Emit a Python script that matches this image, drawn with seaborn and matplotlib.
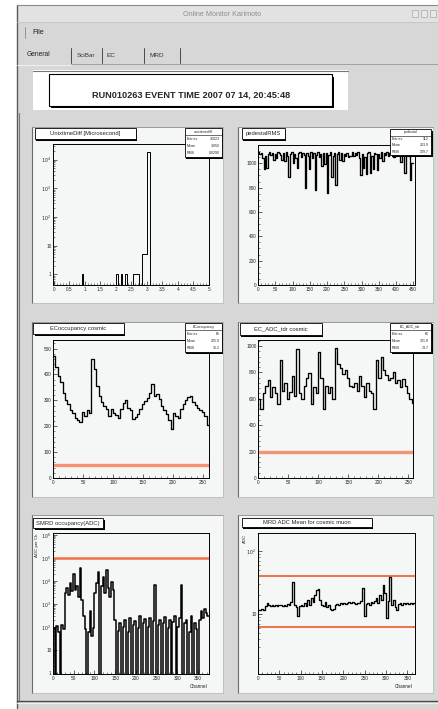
import numpy as np
import pandas as pd
import matplotlib
matplotlib.use("Agg")
import matplotlib.pyplot as plt
from matplotlib.patches import Rectangle
from matplotlib.lines import Line2D
from matplotlib.ticker import MultipleLocator, FixedLocator, LogLocator, FuncFormatter, NullFormatter
import seaborn as sns

# ---------------- data ----------------
run_label = "RUN010263 EVENT TIME 2007 07 14, 20:45:48"
window_title = "Online Monitor Karimoto"
tab_names = ["General", "SciBar", "EC", "MRD"]

# unixtime difference histogram (bin width 0.05), only non-empty bins listed
diff_bin_left = [0.90, 2.00, 2.15, 2.30, 2.55, 2.60, 2.65, 2.70, 2.85, 2.90, 2.95, 3.00, 3.05]
diff_counts = [1, 1, 1, 1, 1, 1, 1, 1, 5, 5, 5, 18000, 18000]

# pedestal sum per channel group (4 channels per entry)
ped_values = [1090, 1075, 1085, 1040, 950, 1060, 960, 1080, 1092, 1070, 1088, 1030, 1080, 1045,
              1090, 1082, 1070, 1025, 1085, 1020, 1090, 1060, 890, 1075, 1090, 1000, 1080, 1040,
              960, 1085, 1092, 1050, 1088, 1070, 795, 1085, 1060, 950, 1090, 1040, 1085, 780,
              1070, 1092, 1050, 1080, 975, 1088, 990, 1085, 753, 1070, 1090, 890, 1060, 1085,
              822, 1075, 1090, 1030, 1088, 1020, 1080, 1060, 1085, 1055, 1058, 1057, 1090, 1060,
              1085, 1070, 1092, 1040, 905, 1080, 960, 1050, 910, 1085, 1090, 920, 1060, 950,
              1088, 1075, 947, 1080, 1040, 1090, 1020, 1085, 1070, 1092, 1060, 1088, 1075, 1090,
              1050, 1085, 1092, 1070, 1088, 1010, 1080, 1090, 920, 1085, 1070, 1060, 864, 1000]

# EC occupancy for cosmics (4 channels per entry)
ec_occ = [470, 430, 395, 372, 330, 300, 285, 262, 250, 232, 225, 218, 255, 240, 262, 250,
          460, 420, 355, 318, 295, 278, 265, 238, 268, 250, 242, 230, 268, 290, 300, 270,
          262, 228, 235, 248, 268, 285, 298, 310, 330, 362, 318, 325, 305, 280, 262, 248,
          225, 190, 252, 240, 232, 265, 285, 300, 312, 318, 292, 282, 270, 262, 255, 240, 205]
ec_occ_threshold = 50

# EC ADC (tdr) for cosmics (4 channels per entry)
ec_adc = [595, 520, 640, 700, 745, 610, 690, 640, 560, 895, 660, 720, 600, 650, 770, 620,
          975, 640, 600, 700, 760, 795, 560, 690, 640, 955, 760, 520, 700, 640, 690, 600,
          985, 860, 830, 790, 820, 760, 700, 690, 720, 660, 770, 700, 610, 720, 660, 640,
          520, 890, 760, 920, 820, 780, 740, 760, 800, 720, 740, 690, 750, 700, 640, 600, 570]
ec_adc_threshold = 200

# SMRD occupancy (4 channels per entry)
smrd_occ = [90, 0, 110, 60, 0, 120, 80, 3000, 5000, 2500, 8000, 3500, 20000, 4000, 6000, 2000,
            35000, 1500, 300, 80, 0, 60, 500, 40, 90, 3000, 8000, 25000, 0, 6000, 15000, 3000,
            30000, 5000, 2000, 9000, 4000, 200, 0, 70, 150, 0, 100, 200, 0, 60, 250, 0,
            120, 180, 0, 90, 300, 0, 150, 220, 0, 100, 250, 0, 180, 7000, 0, 120, 200, 0,
            150, 280, 0, 90, 200, 0, 160, 300, 0, 100, 250, 7000, 0, 150, 200, 0, 60, 300,
            0, 150, 80, 0, 200, 500, 250, 600, 400, 300]
smrd_threshold = 1e5

# MRD ADC mean for cosmic muons (4 channels per entry)
mrd_adc = [11.5, 11.8, 12.0, 11.6, 13.5, 15.0, 13.8, 13.6, 14.0, 13.5, 13.8, 13.4, 13.9, 14.2,
           13.6, 14.0, 13.5, 14.5, 13.8, 15.5, 32.0, 14.0, 13.0, 9.3, 13.5, 14.2, 13.6, 15.0,
           13.4, 16.5, 14.0, 18.0, 15.5, 20.0, 24.0, 25.0, 17.0, 14.0, 13.5, 15.5, 13.0, 14.0,
           12.0, 11.6, 12.3, 14.0, 14.5, 14.2, 14.8, 14.5, 15.0, 14.6, 15.2, 15.5, 14.8, 15.8,
           15.0, 14.5, 15.2, 14.8, 16.0, 26.0, 9.3, 14.5, 15.0, 14.2, 15.5, 14.8, 16.0, 18.0,
           15.0, 20.0, 17.0, 29.0, 22.0, 8.7, 16.0, 39.0, 14.0, 17.0, 13.0, 11.5, 14.5, 15.0,
           14.2, 15.2, 14.6, 15.0, 14.3, 15.0, 14.5, 14.8]
mrd_upper, mrd_lower = 41, 6.2

titles = ["UnixtimeDiff [Microsecond]", "pedestalRMS", "ECoccupancy cosmic",
          "EC_ADC_tdr cosmic", "SMRD occupancy(ADC)", "MRD ADC Mean for cosmic muon"]

# ---------------- style ----------------
sns.set_style("ticks")
plt.rcParams['font.family'] = ['Liberation Sans', 'DejaVu Sans']
plt.rcParams['axes.linewidth'] = 0.6

W, H = 439, 709
fig = plt.figure(figsize=(W / 100, H / 100), dpi=100)
fig.patch.set_facecolor('white')

WIN = '#d7d7d7'
CANVAS = '#f5f6f6'
RED = '#f07048'


def box(x0, y0, x1, y1, **kw):
    r = Rectangle((x0 / W, 1 - y1 / H), (x1 - x0) / W, (y1 - y0) / H,
                  transform=fig.transFigure, **kw)
    fig.add_artist(r)
    return r


def hline(xs, ys, **kw):
    kw.setdefault('zorder', -5)
    fig.add_artist(Line2D([x / W for x in xs], [1 - y / H for y in ys],
                          transform=fig.transFigure, **kw))


def text(x, y, s, **kw):
    return fig.text(x / W, 1 - y / H, s, **kw)


def add_ax(x0, y0, x1, y1):
    ax = fig.add_axes([x0 / W, 1 - y1 / H, (x1 - x0) / W, (y1 - y0) / H])
    ax.set_facecolor(CANVAS)
    for s in ax.spines.values():
        s.set_color('black')
        s.set_linewidth(0.7)
    ax.tick_params(which='major', direction='in', length=2.6, width=0.5,
                   labelsize=3.4, pad=1.2, top=False, right=False)
    ax.tick_params(which='minor', direction='in', length=1.3, width=0.4,
                   top=False, right=False)
    return ax


def log_fmt(v, pos):
    n = int(round(np.log10(v))) if v > 0 else 0
    if n == 0:
        return "1"
    if n == 1:
        return "10"
    return r"$10^{%d}$" % n


def num_fmt(v, pos):
    return "%g" % v


def title_box(x0, y0, x1, y1, s):
    box(x0 + 1.5, y0 + 1.5, x1 + 1.5, y1 + 1.5, facecolor='black', edgecolor='none', zorder=5)
    box(x0, y0, x1, y1, facecolor='white', edgecolor='black', lw=0.6, zorder=6)
    text((x0 + x1) / 2, (y0 + y1) / 2 + 0.3, s, fontsize=4.2, ha='center', va='center', zorder=7)


def stat_box(x0, y0, x1, y1, name, rows):
    box(x0 + 1.5, y0 + 1.5, x1 + 1.5, y1 + 1.5, facecolor='black', edgecolor='none', zorder=5)
    box(x0, y0, x1, y1, facecolor='white', edgecolor='black', lw=0.6, zorder=6)
    nrow = len(rows) + 1
    h = (y1 - y0) / nrow
    text((x0 + x1) / 2, y0 + h / 2, name, fontsize=2.6, ha='center', va='center', zorder=7)
    hline([x0, x1], [y0 + h, y0 + h], color='black', lw=0.4, zorder=7)
    for i, (k, v) in enumerate(rows):
        yy = y0 + h * (i + 1.5)
        text(x0 + 2, yy, k, fontsize=2.6, ha='left', va='center', zorder=7)
        text(x1 - 2, yy, v, fontsize=2.6, ha='right', va='center', zorder=7)


def step_df(left, values, width):
    xs = list(left) + [left[-1] + width]
    ys = list(values) + [values[-1]]
    return pd.DataFrame({'x': xs, 'y': ys})


def stats(left, values, width):
    c = np.asarray(left) + width / 2
    w = np.asarray(values, dtype=float)
    n = w.sum()
    m = (c * w).sum() / n
    r = np.sqrt(((c - m) ** 2 * w).sum() / n)
    return n, m, r


# ---------------- window frame ----------------
box(17, 5, 439, 709, facecolor=WIN, edgecolor='none', zorder=-10)
box(17, 5, 439, 22, facecolor='#e2e2e2', edgecolor='none', zorder=-9)
hline([17, 17], [5, 709], color='#5a5a5a', lw=1.0)
hline([17, 439], [5, 5], color='#8a8a8a', lw=0.8)
hline([17, 439], [22, 22], color='#c4c4c4', lw=0.6)
text(222, 14, window_title, fontsize=5.2, color='#8e8e8e', ha='center', va='center')
for bx in (412, 421, 430):
    box(bx, 10, bx + 6, 17, facecolor='#e8e8e8', edgecolor='#a8a8a8', lw=0.5, zorder=-8)

# menu bar
hline([25, 25], [27, 38], color='#8a8a8a', lw=0.6)
text(32, 33, "File", fontsize=5.2, color='#222222', ha='left', va='center')

# tabs
text(27, 55, tab_names[0], fontsize=4.8, color='#222222', ha='left', va='center')
text(77, 55.5, tab_names[1], fontsize=4.6, color='#333333', ha='left', va='center')
text(107, 55.5, tab_names[2], fontsize=4.6, color='#333333', ha='left', va='center')
text(150, 55.5, tab_names[3], fontsize=4.6, color='#333333', ha='left', va='center')
for tx in (71, 102, 144, 180):
    hline([tx, tx], [48, 63], color='#4a4a4a', lw=0.7)
hline([71, 439], [64, 64], color='#9a9a9a', lw=0.6)
hline([17, 71], [64.8, 64.8], color='#f4f4f4', lw=0.6)

# event banner
box(33, 70, 348, 110, facecolor='white', edgecolor='none', zorder=-8)
hline([33, 348], [70.5, 70.5], color='#777777', lw=0.8)
box(51, 77, 334, 108, facecolor='black', edgecolor='none', zorder=-7)
box(49, 74, 332, 105.5, facecolor='white', edgecolor='black', lw=0.8, zorder=-6)
text(191, 95, run_label, fontsize=6.6, fontweight='bold', ha='center', va='center',
     family=['Liberation Sans Narrow', 'Liberation Sans', 'DejaVu Sans'])

# panel container
hline([19.5, 19.5], [113, 700], color='#7a7a7a', lw=0.8)
hline([17, 439], [701, 701], color='#4a4a4a', lw=1.0)
hline([17, 439], [703, 703], color='#efefef', lw=0.8)

canvases = [(32, 127, 223, 303), (238, 127, 433, 303),
            (32, 322, 223, 497), (238, 322, 433, 497),
            (32, 515, 223, 693), (238, 515, 433, 693)]
for (x0, y0, x1, y1) in canvases:
    box(x0, y0, x1, y1, facecolor=CANVAS, edgecolor='none', zorder=-4)
    hline([x0, x0], [y0, y1], color='#6a6a6a', lw=0.8, zorder=-3)
    hline([x0, x1], [y0, y0], color='#8a8a8a', lw=0.6, zorder=-3)
    hline([x1, x1], [y0, y1], color='#bdbdbd', lw=0.6, zorder=-3)
    hline([x0, x1], [y1, y1], color='#bdbdbd', lw=0.6, zorder=-3)

LW = 0.95

# ---------------- panel 1: unixtime difference ----------------
ax1 = add_ax(53, 144, 209, 285)
edges = np.round(np.arange(0, 5.0001, 0.05), 2)
full = np.zeros(len(edges) - 1)
for b, c in zip(diff_bin_left, diff_counts):
    full[int(round(b / 0.05))] = c
d1 = step_df(edges[:-1], full, 0.05)
sns.lineplot(data=d1, x='x', y='y', ax=ax1, drawstyle='steps-post', color='black',
             lw=0.7, estimator=None, sort=False, legend=False)
ax1.set_yscale('log')
ax1.set_xlim(-0.03, 5.0)
ax1.set_ylim(0.43, 35000)
ax1.xaxis.set_major_locator(MultipleLocator(0.5))
ax1.xaxis.set_minor_locator(MultipleLocator(0.1))
ax1.xaxis.set_major_formatter(FuncFormatter(num_fmt))
ax1.yaxis.set_major_locator(FixedLocator([1, 10, 100, 1000, 10000]))
ax1.yaxis.set_minor_locator(LogLocator(base=10, subs=np.arange(2, 10)))
ax1.yaxis.set_major_formatter(FuncFormatter(log_fmt))
ax1.yaxis.set_minor_formatter(NullFormatter())
n, m, r = stats(edges[:-1], full, 0.05)
title_box(35, 128, 136, 139, titles[0])
stat_box(185, 128, 222, 157, "unixtimediff",
         [("Entries", "%d" % n), ("Mean", "%.3f" % m), ("RMS", "%.4f" % r)])

# ---------------- panel 2: pedestal ----------------
ax2 = add_ax(258, 145, 415, 285)
ped_left = list(range(0, 4 * len(ped_values), 4))
d2 = step_df(ped_left, ped_values, 4)
sns.lineplot(data=d2, x='x', y='y', ax=ax2, drawstyle='steps-post', color='black',
             lw=LW, estimator=None, sort=False, legend=False)
ax2.set_xlim(0, 455)
ax2.set_ylim(0, 1150)
ax2.xaxis.set_major_locator(MultipleLocator(50))
ax2.xaxis.set_minor_locator(MultipleLocator(10))
ax2.yaxis.set_major_locator(FixedLocator([0, 200, 400, 600, 800, 1000]))
ax2.yaxis.set_minor_locator(MultipleLocator(50))
n, m, r = stats(ped_left, ped_values, 4)
title_box(242, 128, 285, 139, titles[1])
stat_box(390, 129, 431, 155, "pedestal",
         [("Entries", "%d" % len(ped_values)), ("Mean", "%.1f" % m), ("RMS", "%.1f" % r)])

# ---------------- panel 3: EC occupancy ----------------
ax3 = add_ax(53, 340, 209, 478)
occ_left = list(range(0, 4 * len(ec_occ), 4))
d3 = step_df(occ_left, ec_occ, 4)
sns.lineplot(data=d3, x='x', y='y', ax=ax3, drawstyle='steps-post', color='black',
             lw=LW, estimator=None, sort=False, legend=False)
ax3.axhline(ec_occ_threshold, color='#f39474', lw=2.4, zorder=1)
ax3.set_xlim(0, 260)
ax3.set_ylim(0, 533)
ax3.xaxis.set_major_locator(MultipleLocator(50))
ax3.xaxis.set_minor_locator(MultipleLocator(10))
ax3.yaxis.set_major_locator(MultipleLocator(100))
ax3.yaxis.set_minor_locator(MultipleLocator(20))
n, m, r = stats(occ_left, ec_occ, 4)
title_box(33, 323, 124, 334, titles[2])
stat_box(185, 323, 222, 352, "ECoccupancy",
         [("Entries", "%d" % len(ec_occ)), ("Mean", "%.1f" % m), ("RMS", "%.1f" % r)])

# ---------------- panel 4: EC ADC ----------------
ax4 = add_ax(258, 340, 413, 478)
adc_left = list(range(0, 4 * len(ec_adc), 4))
d4 = step_df(adc_left, ec_adc, 4)
sns.lineplot(data=d4, x='x', y='y', ax=ax4, drawstyle='steps-post', color='black',
             lw=LW, estimator=None, sort=False, legend=False)
ax4.axhline(ec_adc_threshold, color='#f39474', lw=2.4, zorder=1)
ax4.set_xlim(0, 258)
ax4.set_ylim(0, 1045)
ax4.xaxis.set_major_locator(MultipleLocator(50))
ax4.xaxis.set_minor_locator(MultipleLocator(10))
ax4.yaxis.set_major_locator(MultipleLocator(200))
ax4.yaxis.set_minor_locator(MultipleLocator(40))
n, m, r = stats(adc_left, ec_adc, 4)
title_box(240, 323, 322, 335, titles[3])
stat_box(390, 323, 431, 352, "EC_ADC_tdr",
         [("Entries", "%d" % len(ec_adc)), ("Mean", "%.1f" % m), ("RMS", "%.1f" % r)])

# ---------------- panel 5: SMRD occupancy ----------------
ax5 = add_ax(53, 533, 209, 674)
smrd_left = list(range(0, 4 * len(smrd_occ), 4))
d5 = step_df(smrd_left, smrd_occ, 4)
sns.lineplot(data=d5, x='x', y='y', ax=ax5, drawstyle='steps-post', color='black',
             lw=1.1, estimator=None, sort=False, legend=False)
ax5.set_yscale('log')
ax5.axhline(smrd_threshold, color=RED, lw=1.8, zorder=1)
ax5.set_xlim(0, 376)
ax5.set_ylim(0.93, 1.2e6)
ax5.xaxis.set_major_locator(MultipleLocator(50))
ax5.xaxis.set_minor_locator(MultipleLocator(10))
ax5.xaxis.set_major_formatter(FuncFormatter(num_fmt))
ax5.yaxis.set_major_locator(FixedLocator([1, 10, 1e2, 1e3, 1e4, 1e5, 1e6]))
ax5.yaxis.set_minor_locator(LogLocator(base=10, subs=np.arange(2, 10)))
ax5.yaxis.set_major_formatter(FuncFormatter(log_fmt))
ax5.yaxis.set_minor_formatter(NullFormatter())
title_box(33, 518, 103, 528, titles[4])
text(37, 534, "ADC per Ch", fontsize=3.2, rotation=90, ha='center', va='top', zorder=7)
text(208, 686, "Channel", fontsize=3.4, ha='right', va='center', zorder=7)

# ---------------- panel 6: MRD ADC mean ----------------
ax6 = add_ax(258, 533, 415, 674)
mrd_left = list(range(0, 4 * len(mrd_adc), 4))
d6 = step_df(mrd_left, mrd_adc, 4)
sns.lineplot(data=d6, x='x', y='y', ax=ax6, drawstyle='steps-post', color='black',
             lw=LW, estimator=None, sort=False, legend=False)
ax6.set_yscale('log')
ax6.axhline(mrd_upper, color=RED, lw=1.4, zorder=1)
ax6.axhline(mrd_lower, color=RED, lw=1.4, zorder=1)
ax6.set_xlim(0, 368)
ax6.set_ylim(1.12, 195)
ax6.xaxis.set_major_locator(MultipleLocator(50))
ax6.xaxis.set_minor_locator(MultipleLocator(10))
ax6.xaxis.set_major_formatter(FuncFormatter(num_fmt))
ax6.yaxis.set_major_locator(FixedLocator([10, 100]))
ax6.yaxis.set_minor_locator(LogLocator(base=10, subs=np.arange(2, 10)))
ax6.yaxis.set_major_formatter(FuncFormatter(log_fmt))
ax6.yaxis.set_minor_formatter(NullFormatter())
title_box(242, 518, 372, 527, titles[5])
text(245, 534, "ADC", fontsize=3.2, rotation=90, ha='center', va='top', zorder=7)
text(413, 686, "Channel", fontsize=3.4, ha='right', va='center', zorder=7)

for ax in (ax1, ax2, ax3, ax4, ax5, ax6):
    ax.set_xlabel("")
    ax.set_ylabel("")

fig.savefig("out.png", dpi=100, facecolor=fig.get_facecolor())
